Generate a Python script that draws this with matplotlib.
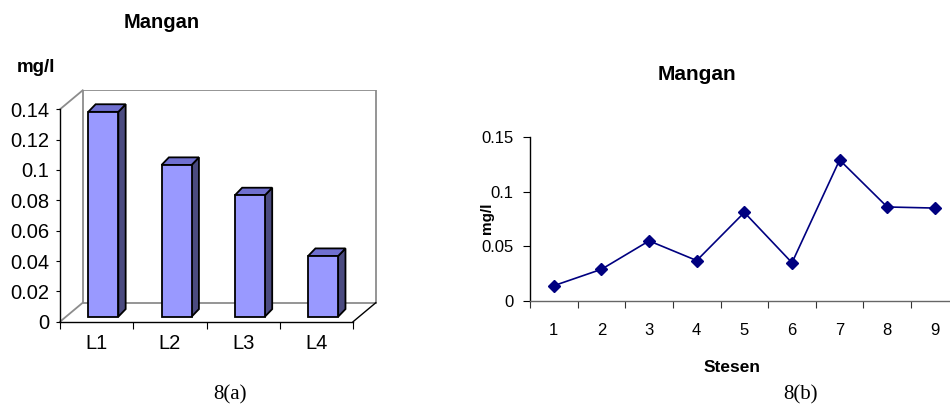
import matplotlib.pyplot as plt
from matplotlib.patches import Polygon

plt.rcParams['font.family'] = ['Liberation Sans', 'DejaVu Sans']

# Manganese readings at the four L stations (bar chart)
bar_labels = ['L1', 'L2', 'L3', 'L4']
bar_values = [0.135, 0.10, 0.08, 0.04]
bar_ticks = [0, 0.02, 0.04, 0.06, 0.08, 0.1, 0.12, 0.14]

# Manganese readings along stations 1..9 (line chart)
stations = [1, 2, 3, 4, 5, 6, 7, 8, 9]
line_values = [0.014, 0.029, 0.055, 0.037, 0.081, 0.035, 0.129, 0.086, 0.085]
line_ticks = [0, 0.05, 0.1, 0.15]

fig = plt.figure(figsize=(9.5, 4.08), dpi=100)

# ---- left: pseudo 3D column chart ----
ax1 = fig.add_axes([60 / 950, 1 - 321.7 / 408, 318 / 950, 231.7 / 408])
ax1.set_xlim(0, 4.34)
ax1.set_ylim(0, 0.1527)

# depth of the chart box and of each column, in data units
wall_dx, wall_dy = 0.31, 0.0125
bar_dx, bar_dy = 0.1, 0.005
floor_y = 0.0033
ymax = bar_ticks[-1]
n = len(bar_labels)

# back wall, side wall edges and floor
ax1.add_patch(Polygon([(wall_dx, wall_dy), (n + wall_dx, wall_dy),
                       (n + wall_dx, ymax + wall_dy), (wall_dx, ymax + wall_dy)],
                      closed=True, facecolor='white', edgecolor='#8c8c8c',
                      linewidth=1.3, zorder=1))
ax1.plot([0, wall_dx], [ymax, ymax + wall_dy], color='#8c8c8c', lw=1.3, zorder=1, clip_on=False)
ax1.plot([0, wall_dx], [0, wall_dy], color='#8c8c8c', lw=1.3, zorder=1, clip_on=False)
ax1.plot([n, n + wall_dx], [0, wall_dy], color='black', lw=1.0, zorder=1, clip_on=False)

# columns: front, top and side faces
for i, v in enumerate(bar_values):
    xl = i + 0.386
    xr = xl + 0.41
    top = floor_y + v
    ax1.add_patch(Polygon([(xr, floor_y), (xr + bar_dx, floor_y + bar_dy),
                           (xr + bar_dx, top + bar_dy), (xr, top)],
                          closed=True, facecolor='#4b4b80', edgecolor='black',
                          linewidth=1.3, zorder=3))
    ax1.add_patch(Polygon([(xl, top), (xr, top), (xr + bar_dx, top + bar_dy),
                           (xl + bar_dx, top + bar_dy)],
                          closed=True, facecolor='#7070d0', edgecolor='black',
                          linewidth=1.3, zorder=3))
ax1.bar([i + 0.386 for i in range(n)], bar_values, width=0.41, bottom=floor_y,
        align='edge', color='#9999ff', edgecolor='black', linewidth=1.3, zorder=4)

for side in ['top', 'right']:
    ax1.spines[side].set_visible(False)
ax1.spines['left'].set_bounds(0, ymax)
ax1.spines['bottom'].set_bounds(0, n)
ax1.spines['left'].set_linewidth(1.0)
ax1.spines['bottom'].set_linewidth(1.0)
ax1.set_yticks(bar_ticks)
ax1.set_yticklabels(['0', '0.02', '0.04', '0.06', '0.08', '0.1', '0.12', '0.14'])
ax1.tick_params(axis='y', length=3, pad=5, labelsize=14.5)
ax1.set_xticks(range(n + 1))
ax1.set_xticklabels([])
ax1.set_xticks([i + 0.5 for i in range(n)], minor=True)
ax1.set_xticklabels(bar_labels, minor=True)
ax1.tick_params(axis='x', which='major', length=5)
ax1.tick_params(axis='x', which='minor', length=0, pad=9, labelsize=14.5)

fig.text(162 / 950, 1 - 23 / 408, 'Mangan', ha='center', va='center',
         fontsize=14.5, fontweight='bold')
fig.text(36 / 950, 1 - 68 / 408, 'mg/l', ha='center', va='center',
         fontsize=13.5, fontweight='bold')

# ---- right: line chart ----
ax2 = fig.add_axes([530 / 950, 1 - 301 / 408, 428.7 / 950, 164 / 408])
ax2.plot(stations, line_values, color='#000080', linewidth=1.2,
         marker='D', markersize=6, markerfacecolor='#000080',
         markeredgecolor='#000080', clip_on=False, zorder=3)
ax2.set_xlim(0.5, 9.5)
ax2.set_ylim(0, 0.15)
for side in ['top', 'right']:
    ax2.spines[side].set_visible(False)
ax2.spines['left'].set_linewidth(1.0)
ax2.spines['bottom'].set_linewidth(1.0)
ax2.spines['bottom'].set_color('#666666')
ax2.set_yticks(line_ticks)
ax2.set_yticklabels(['0', '0.05', '0.1', '0.15'])
ax2.tick_params(axis='y', length=5, pad=7, labelsize=12)
ax2.set_xticks([s - 0.5 for s in stations] + [9.5])
ax2.set_xticklabels([])
ax2.set_xticks(stations, minor=True)
ax2.set_xticklabels([str(s) for s in stations], minor=True)
ax2.tick_params(axis='x', which='major', length=5, color='#333333')
ax2.tick_params(axis='x', which='minor', length=0, pad=16, labelsize=12)

fig.text(697 / 950, 1 - 75 / 408, 'Mangan', ha='center', va='center',
         fontsize=15, fontweight='bold')
fig.text(487 / 950, 1 - 218 / 408, 'mg/l', ha='center', va='center',
         rotation=90, fontsize=11, fontweight='bold')
fig.text(732 / 950, 1 - 367 / 408, 'Stesen', ha='center', va='center',
         fontsize=12.5, fontweight='bold')

# figure captions
fig.text(230 / 950, 1 - 395 / 408, '8(a)', ha='center', va='center',
         fontsize=15, family='Liberation Serif')
fig.text(800 / 950, 1 - 395 / 408, '8(b)', ha='center', va='center',
         fontsize=15, family='Liberation Serif')

fig.savefig('out.png', dpi=100)
